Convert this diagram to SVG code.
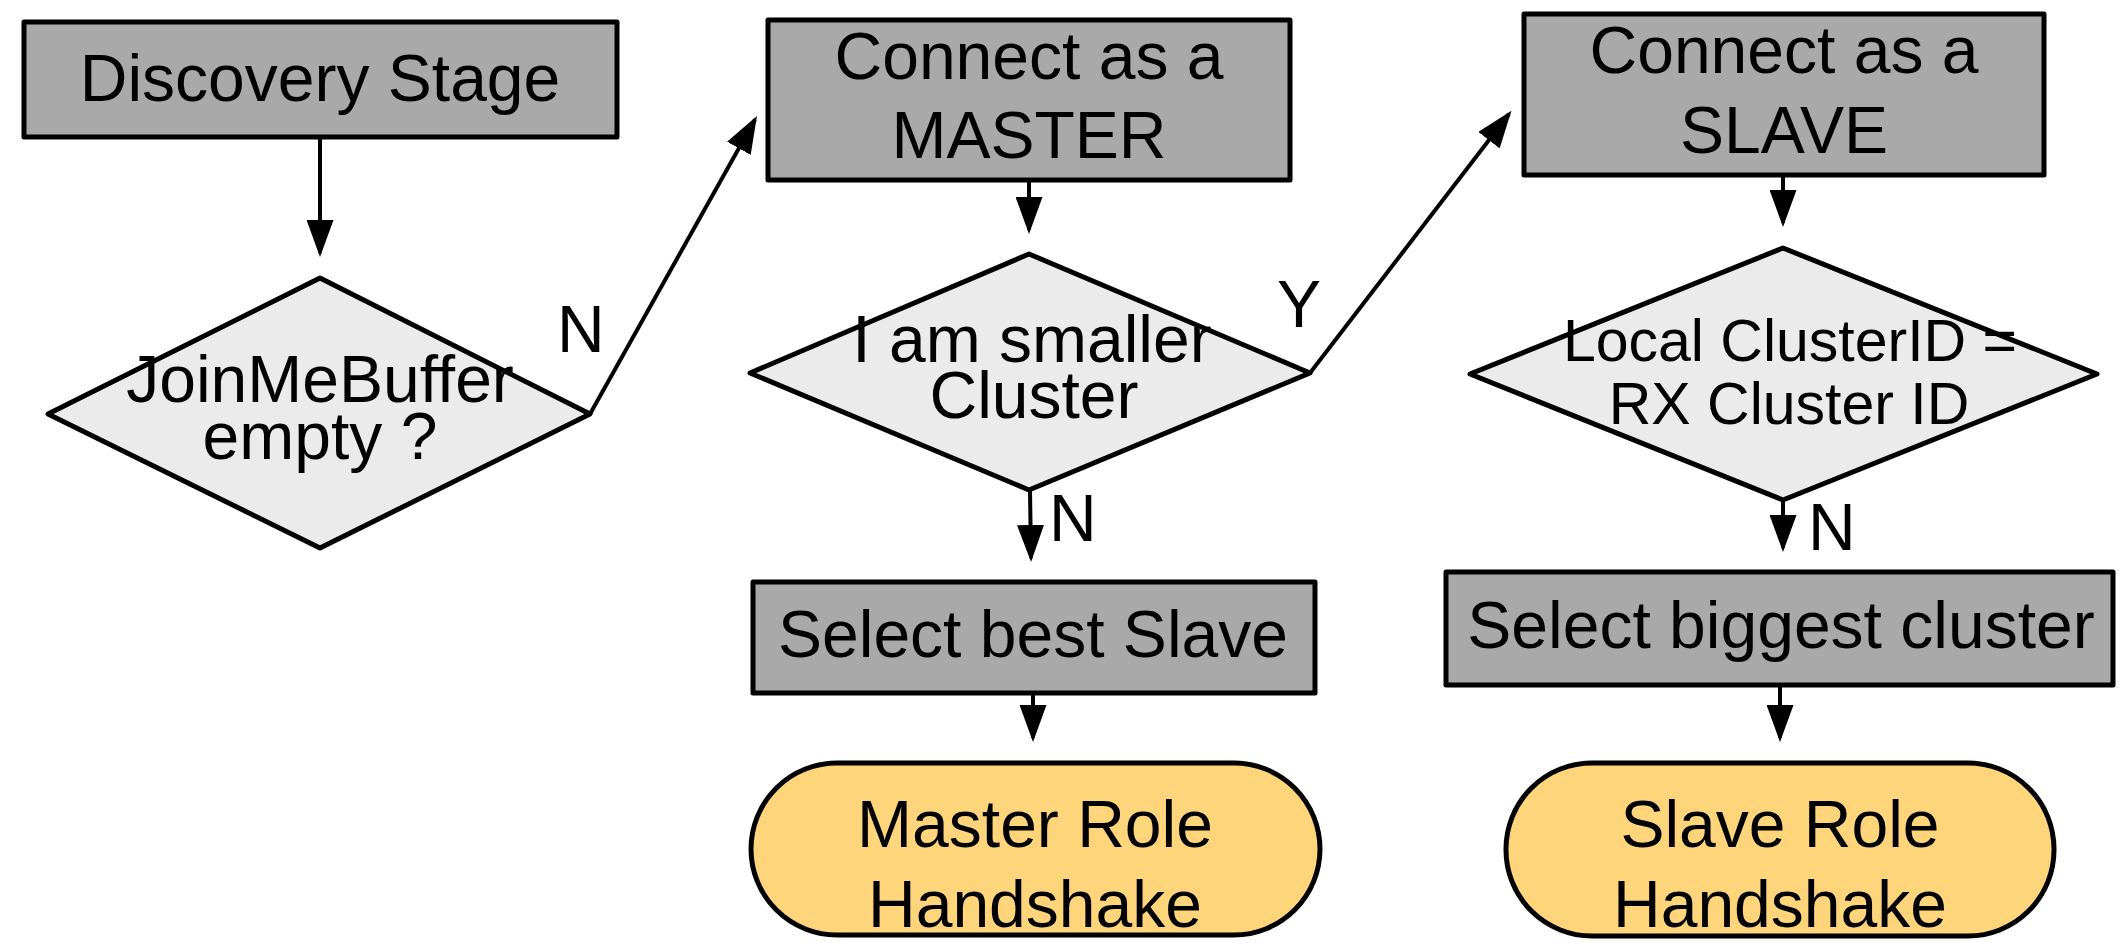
<svg xmlns="http://www.w3.org/2000/svg" width="2126" height="950" viewBox="0 0 2126 950">
<style>
.box{fill:#a9a9a9;stroke:#000;stroke-width:5;stroke-linejoin:round}
.dia{fill:#ebebeb;stroke:#000;stroke-width:5;stroke-linejoin:round}
.pill{fill:#fed57b;stroke:#000;stroke-width:5}
.t{font-family:"Liberation Sans",Arial,sans-serif;font-size:66px;fill:#000;text-anchor:middle}
.ts{font-size:59px}
.lbl{font-family:"Liberation Sans",Arial,sans-serif;font-size:66px;fill:#000}
.c{fill:none;stroke:#000;stroke-width:4;marker-end:url(#ah)}
</style>
<defs>
<marker id="ah" viewBox="0 0 37 27" markerWidth="37" markerHeight="27" refX="33" refY="13.5" orient="auto" markerUnits="userSpaceOnUse">
<path d="M0,0 L37,13.5 L0,27 z" fill="#000"/>
</marker>
</defs>
<rect width="2126" height="950" fill="#fff"/>
<g id="connectors">
<path class="c" d="M320,139 L320,253"/>
<path class="c" d="M590,414 L755,119.5"/>
<path class="c" d="M1029,180 L1029,230"/>
<path class="c" d="M1310,373 L1509,114"/>
<path class="c" d="M1783,175 L1783,223"/>
<path class="c" d="M1030,490 L1031,558"/>
<path class="c" d="M1783,500 L1783,548"/>
<path class="c" d="M1033,693 L1033,738"/>
<path class="c" d="M1780,685 L1780,738"/>
</g>
<g id="discovery">
<rect class="box" x="24" y="22" width="593" height="115"/>
<text class="t" x="320" y="101">Discovery Stage</text>
</g>
<g id="joinme">
<polygon class="dia" points="320,278 590,414 320,548 48,414"/>
<text class="t" x="320" y="402">JoinMeBuffer</text>
<text class="t" x="320" y="459">empty ?</text>
</g>
<g id="master">
<rect class="box" x="768" y="20" width="522" height="160"/>
<text class="t" x="1029" y="79">Connect as a</text>
<text class="t" x="1029" y="158">MASTER</text>
</g>
<g id="smaller">
<polygon class="dia" points="1029,254 1310,373 1029,490 750,373"/>
<text class="t" x="1032" y="362">I am smaller</text>
<text class="t" x="1034" y="418">Cluster</text>
</g>
<g id="slave">
<rect class="box" x="1524" y="14" width="520" height="161"/>
<text class="t" x="1784" y="73">Connect as a</text>
<text class="t" x="1784" y="153">SLAVE</text>
</g>
<g id="clusterid">
<polygon class="dia" points="1783,248 2097,374 1783,500 1470,374"/>
<text class="t ts" x="1790" y="361">Local ClusterID =</text>
<text class="t ts" x="1789" y="424">RX Cluster ID</text>
</g>
<g id="bestslave">
<rect class="box" x="753" y="582" width="562" height="111"/>
<text class="t" x="1033" y="657">Select best Slave</text>
</g>
<g id="biggest">
<rect class="box" x="1446" y="572" width="667" height="113"/>
<text class="t" x="1781" y="648">Select biggest cluster</text>
</g>
<g id="masterrole">
<rect class="pill" x="751" y="763" width="569" height="172" rx="86" ry="86"/>
<text class="t" x="1035" y="847">Master Role</text>
<text class="t" x="1035" y="927">Handshake</text>
</g>
<g id="slaverole">
<rect class="pill" x="1506" y="763" width="548" height="173" rx="86" ry="86"/>
<text class="t" x="1780" y="847">Slave Role</text>
<text class="t" x="1780" y="927">Handshake</text>
</g>
<g id="labels">
<text class="lbl" x="557" y="352">N</text>
<text class="lbl" x="1277" y="327">Y</text>
<text class="lbl" x="1049" y="541">N</text>
<text class="lbl" x="1808" y="550">N</text>
</g>
</svg>
